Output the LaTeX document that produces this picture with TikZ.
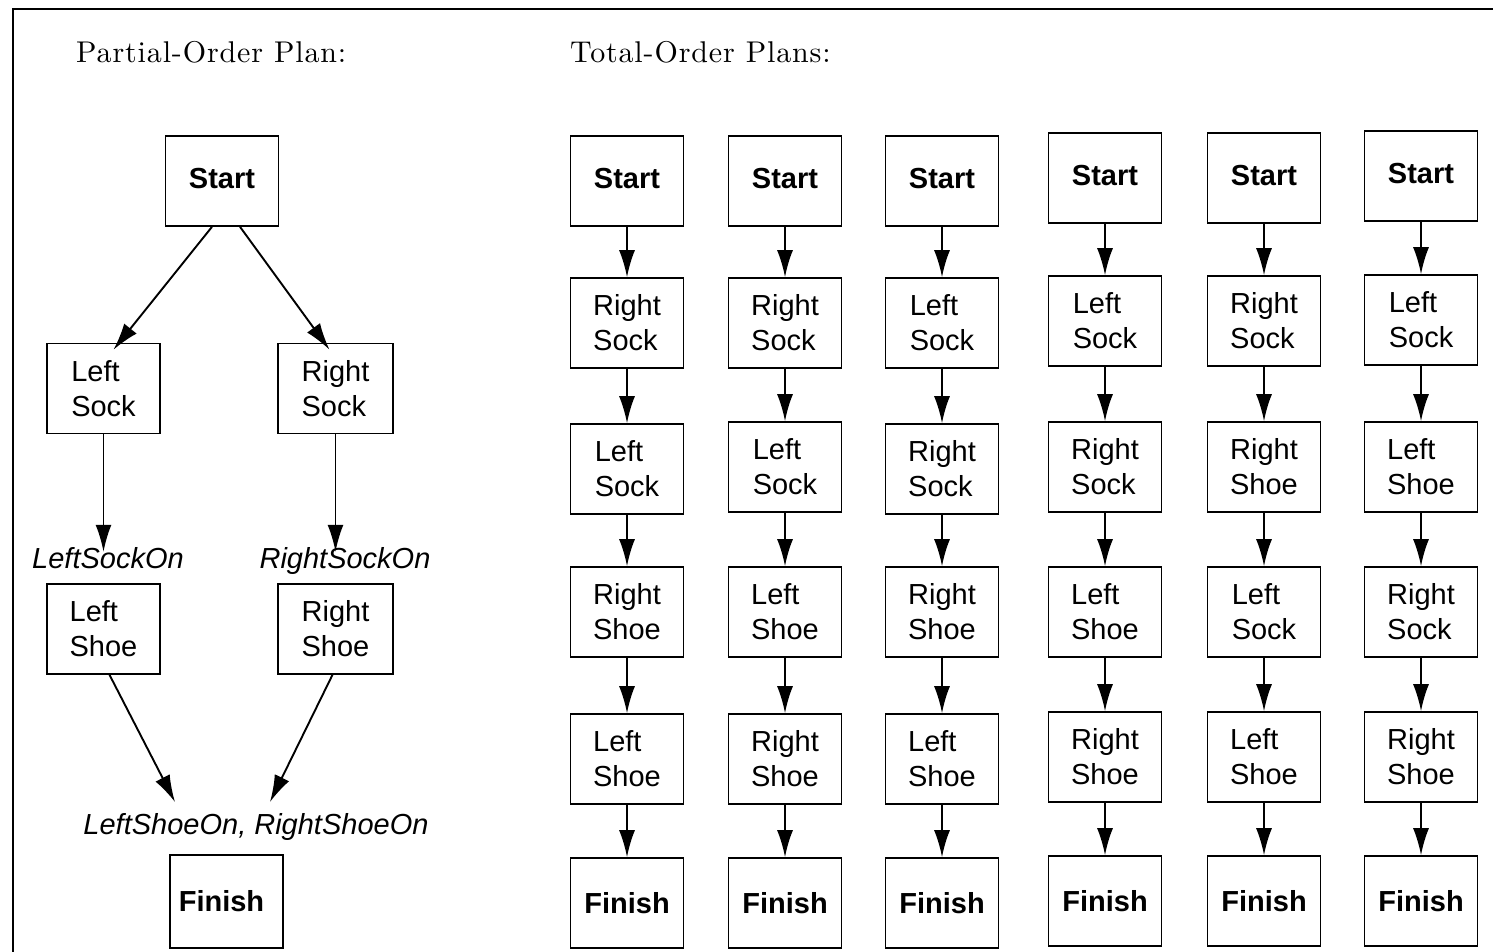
\documentclass[tikz,border=0pt]{standalone}
\usepackage{fontspec}
\newfontfamily\sfam{Liberation Sans}
\newfontfamily\ttlfont{lmroman10-regular.otf}[LetterSpace=2.9]
\usetikzlibrary{arrows.meta}
\def\pRSock{Right\\Sock}
\def\pLSock{Left\\Sock}
\def\pRShoe{Right\\Shoe}
\def\pLShoe{Left\\Shoe}
\tikzset{
  box/.style={draw,line width=1.6pt,minimum width=113pt,minimum height=90pt,inner sep=0pt,align=left,font=\sfam\fontsize{29}{35}\selectfont},
  bbox/.style={box,font=\sfam\bfseries\fontsize{29}{35}\selectfont},
  arr/.style={line width=1.9pt,-{Latex[length=27pt,width=16pt]}},
  lbl/.style={inner sep=0pt,anchor=base,font=\sfam\itshape\fontsize{29}{35}\selectfont},
  ttl/.style={inner sep=0pt,anchor=base west,font=\ttlfont\fontsize{30}{36}\selectfont}
}
\begin{document}
\begin{tikzpicture}[x=1pt,y=-1pt]
\useasboundingbox (0,0) rectangle (1493,951);
\draw[line width=2.5pt] (13,960) -- (13,9) -- (1500,9);
\node[ttl] (t1) at (76,62) {Partial-Order Plan:};
\node[ttl] (t2) at (570,62) {Total-Order Plans:};
% partial order plan
\node[bbox] (ps) at (222,181) {\raisebox{5pt}{Start}};
\node[box] (pls) at (103.5,388.5) {\pLSock};
\node[box,minimum width=115pt] (prs) at (335.5,388.5) {\pRSock};
\node[lbl] (plso) at (108,568) {LeftSockOn};
\node[lbl] (prso) at (345,568) {RightSockOn};
\node[box] (plsh) at (103.5,629) {\pLShoe};
\node[box,minimum width=115pt] (prsh) at (335.5,629) {\pRShoe};
\node[lbl] (pon) at (256,834) {LeftShoeOn, RightShoeOn};
\node[bbox,minimum height=93pt] (pf) at (226.5,901.5) {\hspace*{-10pt}\raisebox{2pt}{Finish}};
\draw[arr] ([xshift=-10pt]ps.south) -- ([xshift=10pt,yshift=-7pt]pls.north);
\draw[arr] ([xshift=18pt]ps.south) -- ([xshift=-6pt,yshift=-7pt]prs.north);
\draw[arr] (pls.south) -- ([yshift=-5pt]pls.south |- plso.north);
\draw[arr] (prs.south) -- ([yshift=-5pt]prs.south |- prso.north);
\draw[arr] ([xshift=6pt]plsh.south) -- (175,802);
\draw[arr] ([xshift=-3pt]prsh.south) -- (270,802);
% total order plans
\foreach \c/\x/\ya/\yb/\yc/\yd/\ye/\yf/\la/\lb/\lc/\ld in {
  1/627/181/323/469/612/759/903/\pRSock/\pLSock/\pRShoe/\pLShoe,
  2/785/181/323/467/612/759/903/\pRSock/\pLSock/\pLShoe/\pRShoe,
  3/942/181/323/469/612/759/903/\pLSock/\pRSock/\pRShoe/\pLShoe,
  4/1105/178/321/467/612/757/901/\pLSock/\pRSock/\pLShoe/\pRShoe,
  5/1264/178/321/467/612/757/901/\pRSock/\pRShoe/\pLSock/\pLShoe,
  6/1421/176/320/467/612/757/901/\pLSock/\pLShoe/\pRSock/\pRShoe}{
  \node[bbox] (c\c-1) at (\x,\ya) {\raisebox{5pt}{Start}};
  \node[box] (c\c-2) at (\x,\yb) {\la};
  \node[box] (c\c-3) at (\x,\yc) {\lb};
  \node[box] (c\c-4) at (\x,\yd) {\lc};
  \node[box] (c\c-5) at (\x,\ye) {\ld};
  \node[bbox] (c\c-6) at (\x,\yf) {Finish};
  \foreach \i [evaluate=\i as \j using int(\i+1)] in {1,...,5}
    \draw[arr] (c\c-\i.south) -- (c\c-\j.north);
}
\end{tikzpicture}
\end{document}
